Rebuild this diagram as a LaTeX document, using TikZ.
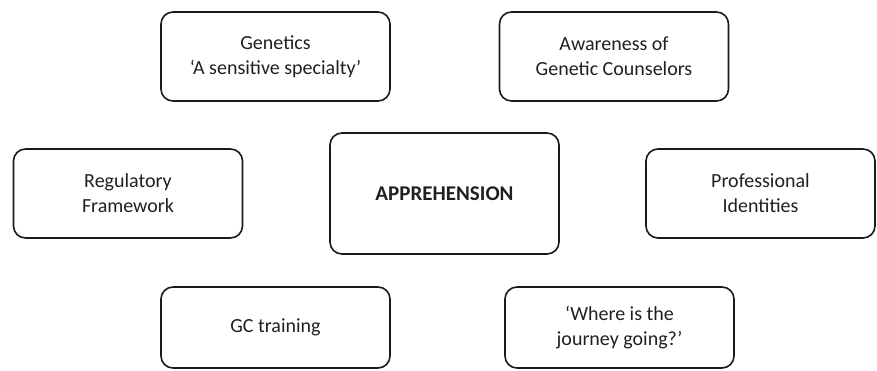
\documentclass[tikz,border=0pt]{standalone}
\usepackage{fontspec}
\setmainfont{Carlito}
\usepackage{xcolor}
\definecolor{cLine}{HTML}{1A1A1A}
\definecolor{cText}{HTML}{231F20}
\usepackage{tikz}
\usetikzlibrary{positioning}
\tikzset{
  theme-box/.style={draw=cLine,line width=1.6pt,rounded corners=12pt,
    minimum width=229pt,minimum height=89pt,align=center,
    text=cText,font=\fontsize{20}{25}\selectfont,inner sep=0pt},
  theme-core/.style={theme-box,minimum height=121pt,font=\fontsize{21}{25}\selectfont\bfseries},
  theme-low/.style={theme-box,minimum height=81pt},
}

\begin{document}
\begin{tikzpicture}[x=1pt,y=-1pt]
  \useasboundingbox (0,0) rectangle (877,370);
  \node[theme-core]             (appr)  at (444.5,193.5) {APPREHENSION};
  \node[theme-box]              (gen)   at (275.5,56.5)  {Genetics\\‘A sensitive specialty’};
  \node[theme-box]              (aware) at (614,56.5)    {Awareness of\\Genetic Counselors};
  \node[theme-box]              (reg)   at (128,193.5)   {Regulatory\\Framework};
  \node[theme-box]              (prof)  at (760.5,193.5) {Professional\\Identities};
  \node[theme-low]              (gc)    at (275.5,327.5) {GC training};
  \node[theme-low]              (where) at (619.5,327.5) {‘Where is the\\journey going?’};
\end{tikzpicture}
\end{document}
